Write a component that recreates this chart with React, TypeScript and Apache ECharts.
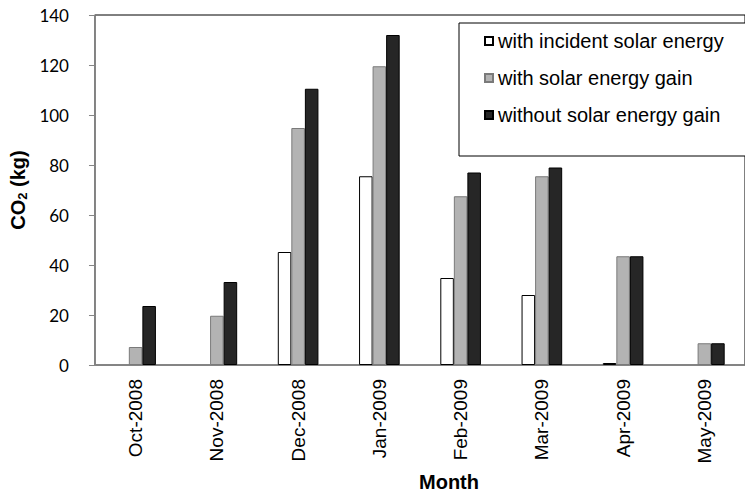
import React, { useEffect, useRef } from "react";
import * as echarts from "echarts";

const months = ["Oct-2008", "Nov-2008", "Dec-2008", "Jan-2009", "Feb-2009", "Mar-2009", "Apr-2009", "May-2009"];
const incidentSolar = [0, 0, 45.2, 75.5, 34.8, 28, 0.8, 0];
const withSolarGain = [7.2, 19.7, 94.8, 119.5, 67.5, 75.5, 43.5, 8.7];
const withoutSolarGain = [23.6, 33.2, 110.5, 132, 77, 79, 43.5, 8.7];
const seriesNames = ["with incident solar energy", "with solar energy gain", "without solar energy gain"];
const yTicks = { min: 0, max: 140, interval: 20 };

const toData = (arr: number[]) => arr.map((v) => (v === 0 ? "-" : v));

export default function App() {
  const ref = useRef<HTMLDivElement>(null);
  useEffect(() => {
    if (!ref.current) return;
    const chart = echarts.init(ref.current, null, { renderer: "svg" });
    const styles = [
      { color: "#ffffff", borderColor: "#000000", borderWidth: 1 },
      { color: "#b3b3b3", borderColor: "#7a7a7a", borderWidth: 1 },
      { color: "#262626", borderColor: "#000000", borderWidth: 1 },
    ];
    const values = [incidentSolar, withSolarGain, withoutSolarGain];
    chart.setOption({
      animation: false,
      backgroundColor: "#ffffff",
      grid: {
        left: 90,
        top: 15,
        bottom: 138,
        right: -11,
        show: true,
        borderColor: "#000000",
        borderWidth: 1,
        backgroundColor: "transparent",
      },
      legend: {
        orient: "vertical",
        left: 459,
        top: 23,
        padding: [8, 40, 31, 25],
        borderColor: "#000000",
        borderWidth: 1,
        backgroundColor: "#ffffff",
        itemWidth: 8,
        itemHeight: 8,
        itemGap: 17,
        icon: "rect",
        data: seriesNames,
        textStyle: { fontFamily: "'Liberation Sans', Arial, sans-serif", fontSize: 20, color: "#000" },
      },
      xAxis: {
        type: "category",
        data: months,
        axisLine: { show: true, lineStyle: { color: "#868686", width: 1.5 } },
        axisTick: { show: false },
        axisLabel: {
          rotate: 90,
          margin: 14,
          fontFamily: "'Liberation Sans', Arial, sans-serif",
          fontSize: 19,
          color: "#000",
        },
      },
      yAxis: {
        type: "value",
        min: yTicks.min,
        max: yTicks.max,
        interval: yTicks.interval,
        splitLine: { show: false },
        axisLine: { show: true, lineStyle: { color: "#868686", width: 1.5 } },
        axisTick: { show: true, inside: false, length: 6, lineStyle: { color: "#868686" } },
        axisLabel: { margin: 26, fontFamily: "Lato, 'Open Sans', sans-serif", fontSize: 17, color: "#000" },
        name: "{a|CO}{b|2}{a| (kg)}",
        nameLocation: "middle",
        nameGap: 50,
        nameRotate: 90,
        nameTextStyle: {
          rich: {
            a: { fontFamily: "'Liberation Sans', Arial, sans-serif", fontWeight: "bold", fontSize: 20, color: "#000" },
            b: {
              fontFamily: "'Liberation Sans', Arial, sans-serif",
              fontWeight: "bold",
              fontSize: 13,
              color: "#000",
              padding: [8, 0, 0, 0],
            },
          },
        },
      },
      graphic: [
        {
          type: "text",
          x: 449,
          y: 482,
          style: {
            text: "Month",
            fontFamily: "'Liberation Sans', Arial, sans-serif",
            fontWeight: "bold",
            fontSize: 20,
            fill: "#000",
            textAlign: "center",
            textVerticalAlign: "middle",
          },
        },
      ],
      series: seriesNames.map((name, i) => ({
        name,
        type: "bar",
        data: toData(values[i]),
        barGap: "0%",
        barCategoryGap: "50%",
        itemStyle: styles[i],
      })),
    });
    return () => chart.dispose();
  }, []);
  return <div ref={ref} style={{ position: "absolute", left: 0, top: 0, width: 745, height: 503 }} />;
}
